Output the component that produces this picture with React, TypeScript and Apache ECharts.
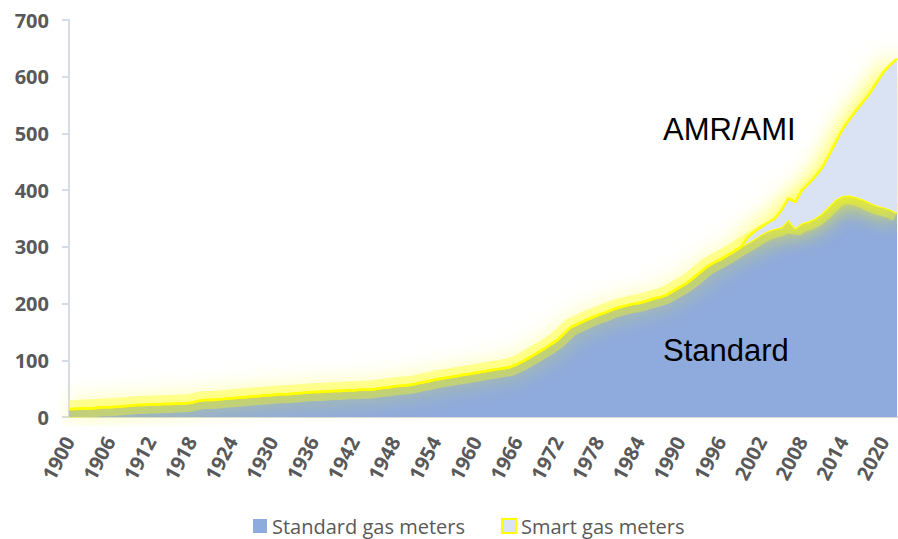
import React, { useEffect, useRef } from "react";
import * as echarts from "echarts";

const years: string[] = [];
for (let y = 1900; y <= 2022; y++) years.push(String(y));

const standardMeters: number[] = [
  14, 14, 15, 15, 16, 17, 17, 18, 19, 20,
  21, 21, 22, 22, 23, 23, 24, 24, 25, 28,
  30, 30, 31, 32, 33, 34, 35, 36, 37, 38,
  39, 40, 40, 41, 42, 43, 44, 44, 45, 46,
  46, 47, 47, 48, 48, 49, 51, 52, 54, 55,
  56, 58, 61, 63, 66, 68, 70, 72, 74, 76,
  78, 80, 82, 84, 86, 88, 93, 99, 106, 113,
  120, 128, 136, 148, 159, 164, 170, 175, 180, 184,
  189, 193, 196, 199, 201, 204, 208, 211, 215, 222,
  229, 236, 245, 255, 265, 272, 278, 285, 292, 300,
  307, 314, 322, 328, 332, 335, 348, 333, 342, 345,
  351, 360, 372, 384, 390, 391, 388, 384, 378, 373,
  370, 366, 360,
];

const smartMeters: number[] = [
  0, 0, 0, 0, 0, 0, 0, 0, 0, 0,
  0, 0, 0, 0, 0, 0, 0, 0, 0, 0,
  0, 0, 0, 0, 0, 0, 0, 0, 0, 0,
  0, 0, 0, 0, 0, 0, 0, 0, 0, 0,
  0, 0, 0, 0, 0, 0, 0, 0, 0, 0,
  0, 0, 0, 0, 0, 0, 0, 0, 0, 0,
  0, 0, 0, 0, 0, 0, 0, 0, 0, 0,
  0, 0, 0, 0, 0, 0, 0, 0, 0, 0,
  0, 0, 0, 0, 0, 0, 0, 0, 0, 0,
  0, 0, 0, 0, 0, 0, 0, 0, 0, 0,
  10, 13, 13, 15, 18, 30, 38, 46, 58, 67,
  74, 80, 90, 101, 118, 134, 153, 172, 193, 217,
  238, 255, 272,
];

const seriesNames = ["Standard gas meters", "Smart gas meters"];

export default function App() {
  const ref = useRef<HTMLDivElement>(null);
  useEffect(() => {
    const chart = echarts.init(ref.current!, null, { renderer: "svg" });
    chart.setOption({
      animation: false,
      backgroundColor: "#ffffff",
      grid: { left: 69, right: 1, top: 20, bottom: 122, containLabel: false },
      legend: {
        top: 514,
        left: 253,
        padding: 0,
        itemWidth: 14,
        itemHeight: 14,
        itemGap: 36,
        textStyle: { color: "#595959", fontSize: 20, fontFamily: "Open Sans", lineHeight: 24 },
        data: [
          { name: seriesNames[0], icon: "rect", itemStyle: { color: "#8FAADC", borderWidth: 0 } },
          { name: seriesNames[1], icon: "rect", itemStyle: { color: "#DAE3F3", borderColor: "#FFFF00", borderWidth: 2 } },
        ],
      },
      xAxis: {
        type: "category",
        data: years,
        boundaryGap: false,
        axisLine: { lineStyle: { color: "#D9D9D9", width: 2 } },
        axisTick: { show: false },
        splitLine: { show: false },
        axisLabel: {
          interval: 5,
          rotate: 62,
          margin: 21,
          color: "#595959",
          fontFamily: "Open Sans",
          fontWeight: "bold",
          fontSize: 20,
        },
      },
      yAxis: {
        type: "value",
        min: 0,
        max: 700,
        interval: 100,
        splitLine: { show: false },
        axisLine: { show: true, lineStyle: { color: "#D6DCE5", width: 2 } },
        axisTick: { show: true, length: 7, lineStyle: { color: "#D6DCE5", width: 2 } },
        axisLabel: {
          margin: 20,
          color: "#595959",
          fontFamily: "Open Sans",
          fontWeight: "bold",
          fontSize: 20,
        },
      },
      graphic: [
        {
          type: "text",
          x: 663,
          y: 129,
          z: 100,
          style: { text: "AMR/AMI", fontSize: 31, fontFamily: "Liberation Sans", fill: "#000000", textVerticalAlign: "middle" },
        },
        {
          type: "text",
          x: 663,
          y: 350,
          z: 100,
          style: { text: "Standard", fontSize: 31, fontFamily: "Liberation Sans", fill: "#000000", textVerticalAlign: "middle" },
        },
      ],
      series: [
        {
          name: seriesNames[0],
          type: "line",
          stack: "total",
          z: 2,
          symbol: "none",
          data: standardMeters,
          itemStyle: { color: "#8FAADC" },
          lineStyle: { color: "#FFFF00", width: 2.5 },
          areaStyle: { color: "#8FAADC", opacity: 1 },
        },
        {
          name: "glow",
          type: "line",
          z: 3,
          symbol: "none",
          silent: true,
          data: standardMeters,
          lineStyle: {
            color: "rgba(255,255,0,0.35)",
            width: 18,
            shadowBlur: 22,
            shadowColor: "rgba(255,255,0,0.9)",
          },
        },
        {
          name: seriesNames[1],
          type: "line",
          stack: "total",
          z: 4,
          symbol: "none",
          data: smartMeters,
          itemStyle: { color: "#DAE3F3", borderColor: "#FFFF00" },
          lineStyle: { color: "#FFFF00", width: 2.5 },
          areaStyle: {
            color: "#DAE3F3",
            opacity: 1,
            shadowBlur: 26,
            shadowColor: "rgba(255,255,0,1)",
          },
        },
      ],
    });
    return () => chart.dispose();
  }, []);
  return (
    <div
      ref={ref}
      style={{ position: "fixed", left: 0, top: 0, width: 898, height: 539, background: "#fff" }}
    />
  );
}
